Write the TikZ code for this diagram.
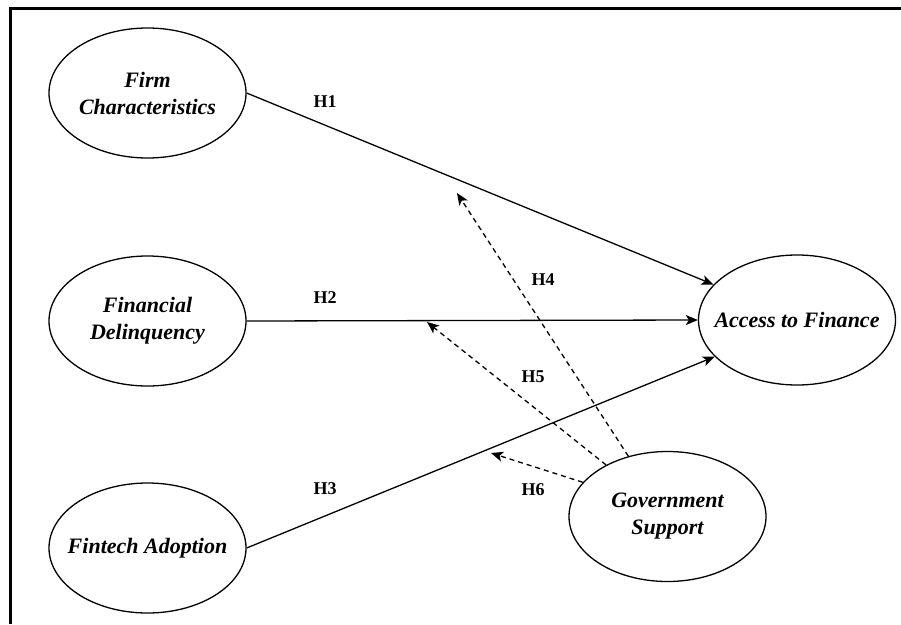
\documentclass[tikz,border=0pt]{standalone}
\usepackage{fontspec}
\setmainfont{Liberation Serif}
\usetikzlibrary{shapes.geometric,arrows.meta}
\begin{document}
\begin{tikzpicture}[x=1pt,y=-1pt,
    oval/.style={draw, ellipse, line width=1.3pt, minimum width=197pt, minimum height=130pt, inner sep=0pt},
    oname/.style={align=center, font=\fontsize{22}{27}\selectfont\bfseries\itshape},
    hyp/.style={font=\fontsize{18}{20}\selectfont\bfseries},
    link/.style={line width=1.3pt, -{Stealth[length=12pt,width=10pt,inset=3pt]}},
    modlink/.style={link, dash pattern=on 5pt off 4pt}]
    \def\lx{147.5}
    \def\rx{797}

    \useasboundingbox (0,0) rectangle (901,624);
    % frame
    \draw[line width=2.5pt] (10.7,624) -- (10.7,8.7) -- (901,8.7);

    % constructs
    \node[oval, label={[oname]center:Firm\\Characteristics}] (firm) at (\lx,93) {};
    \node[oval, label={[oname]center:Financial\\Delinquency}] (delinq) at (\lx,321) {};
    \node[oval, label={[oname]center:Fintech Adoption}] (fintech) at (\lx,548) {};
    \node[oval, label={[oname]center:Access to Finance}] (access) at (\rx,320) {};
    \node[oval, label={[oname]center:Government\\Support}] (gov) at (667.5,516.5) {};

    % direct paths
    \draw[link] (firm.east) -- (access.157);
    \draw[link] (delinq.east) -- (access.west);
    \draw[link] (fintech.east) -- (access.204);

    % moderation
    \coordinate (m4) at (457,193);
    \coordinate (m5) at (427,322);
    \coordinate (m6) at (491,453);
    \draw[modlink] (gov.123) -- (m4);
    \draw[modlink] (gov.140) -- (m5);
    \draw[modlink] (gov.158) -- (m6);

    % hypotheses
    \node[hyp] (h1) at (325,102) {H1};
    \node[hyp] (h2) at (325,298) {H2};
    \node[hyp] (h3) at (325,489) {H3};
    \node[hyp] (h4) at (543,280) {H4};
    \node[hyp] (h5) at (533,377) {H5};
    \node[hyp] (h6) at (533,490) {H6};
\end{tikzpicture}
\end{document}
